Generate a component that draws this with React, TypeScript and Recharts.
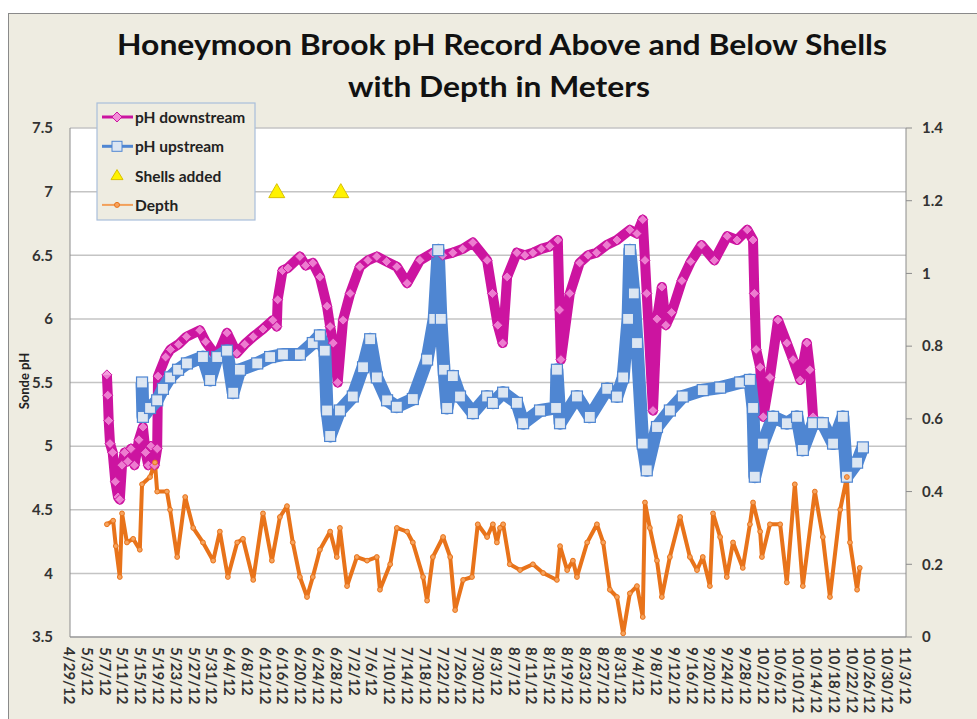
import React from 'react';
import { ComposedChart, Line, Scatter, XAxis, YAxis, CartesianGrid } from 'recharts';

// x values are days counted from 4/29/12
const X_LABELS = [
  '4/29/12', '5/3/12', '5/7/12', '5/11/12', '5/15/12', '5/19/12', '5/23/12', '5/27/12',
  '5/31/12', '6/4/12', '6/8/12', '6/12/12', '6/16/12', '6/20/12', '6/24/12', '6/28/12',
  '7/2/12', '7/6/12', '7/10/12', '7/14/12', '7/18/12', '7/22/12', '7/26/12', '7/30/12',
  '8/3/12', '8/7/12', '8/11/12', '8/15/12', '8/19/12', '8/23/12', '8/27/12', '8/31/12',
  '9/4/12', '9/8/12', '9/12/12', '9/16/12', '9/20/12', '9/24/12', '9/28/12', '10/2/12',
  '10/6/12', '10/10/12', '10/14/12', '10/18/12', '10/22/12', '10/26/12', '10/30/12', '11/3/12',
];
const PH_TICKS = [3.5, 4, 4.5, 5, 5.5, 6, 6.5, 7, 7.5];
const DEPTH_TICKS = [0, 0.2, 0.4, 0.6, 0.8, 1, 1.2, 1.4];

const PH_DOWNSTREAM: [number, number][] = [
  [8.3, 5.56], [8.5, 5.4], [8.7, 5.2], [9.0, 5.02], [9.6, 4.95], [10.2, 4.72], [10.8, 4.6], [11.2, 4.58],
  [11.7, 4.85], [12.3, 4.95], [13.0, 4.88], [13.7, 4.98], [14.5, 4.85], [15.5, 5.05], [16.4, 5.15], [17.0, 4.95],
  [17.6, 4.85], [18.2, 5.0], [19.0, 4.85], [19.6, 4.98], [19.8, 5.55], [21.5, 5.7], [22.6, 5.76], [24.4, 5.8],
  [26.2, 5.86], [29.2, 5.91], [30.5, 5.82], [33.0, 5.7], [35.3, 5.89], [37.5, 5.73], [39.3, 5.8], [41.2, 5.86],
  [43.4, 5.92], [45.6, 5.99], [46.5, 5.94], [46.7, 6.15], [47.8, 6.38], [49.0, 6.4], [51.7, 6.49], [53.0, 6.42],
  [54.6, 6.44], [56.2, 6.33], [57.8, 6.1], [58.5, 5.94], [59.2, 5.81], [60.2, 5.5], [61.4, 5.99], [63.0, 6.2],
  [65.2, 6.41], [67.0, 6.46], [69.0, 6.49], [71.2, 6.45], [73.5, 6.41], [75.8, 6.28], [78.7, 6.46], [81.6, 6.52],
  [83.8, 6.5], [86.1, 6.52], [88.3, 6.55], [90.6, 6.6], [93.8, 6.46], [95.0, 6.2], [96.2, 5.95], [97.3, 5.81],
  [98.3, 6.33], [100.5, 6.52], [102.3, 6.5], [104.1, 6.52], [106.0, 6.55], [107.9, 6.57], [109.7, 6.62], [110.1, 6.07],
  [110.4, 5.68], [112.4, 6.2], [114.6, 6.44], [116.5, 6.5], [118.4, 6.52], [120.7, 6.58], [123.0, 6.62], [125.9, 6.7],
  [127.5, 6.67], [128.8, 6.78], [129.3, 6.46], [129.7, 6.2], [131.1, 5.28], [132.0, 6.0], [133.1, 6.25], [134.0, 5.95],
  [135.3, 6.05], [137.6, 6.3], [139.6, 6.45], [142.0, 6.58], [144.9, 6.46], [147.8, 6.65], [150.0, 6.62], [152.3, 6.7],
  [153.6, 6.62], [153.9, 6.2], [154.3, 5.76], [155.2, 5.62], [155.9, 5.23], [157.4, 5.54], [159.2, 5.99], [161.2, 5.81],
  [162.6, 5.68], [164.2, 5.52], [165.7, 5.81], [166.4, 5.6], [167.1, 5.23],
];

const PH_UPSTREAM: [number, number][] = [
  [16.2, 5.5], [16.4, 5.23], [18.0, 5.3], [19.6, 5.36], [20.9, 5.45], [22.5, 5.54], [24.3, 5.6], [26.3, 5.65],
  [29.9, 5.7], [31.5, 5.52], [33.1, 5.7], [35.3, 5.75], [36.7, 5.42], [38.2, 5.6], [42.1, 5.65], [45.0, 5.7],
  [47.9, 5.72], [51.7, 5.72], [54.6, 5.81], [56.2, 5.87], [57.3, 5.75], [57.8, 5.28], [58.5, 5.08], [60.7, 5.28],
  [63.6, 5.39], [65.9, 5.62], [67.5, 5.84], [69.0, 5.54], [71.3, 5.36], [73.5, 5.31], [77.1, 5.37], [80.3, 5.68],
  [81.9, 6.0], [82.8, 6.54], [83.4, 6.0], [84.1, 5.6], [84.8, 5.3], [86.1, 5.55], [87.7, 5.39], [90.6, 5.26],
  [93.8, 5.39], [95.1, 5.34], [97.4, 5.42], [100.5, 5.34], [101.9, 5.18], [105.7, 5.28], [109.3, 5.3], [109.5, 5.6],
  [110.2, 5.18], [114.0, 5.39], [116.9, 5.23], [120.8, 5.45], [123.0, 5.39], [124.4, 5.54], [125.5, 6.0], [125.9, 6.54],
  [126.8, 6.2], [127.5, 5.81], [128.8, 5.02], [129.7, 4.81], [132.0, 5.15], [134.9, 5.28], [137.8, 5.39], [142.3, 5.44],
  [146.2, 5.46], [150.7, 5.5], [152.9, 5.52], [153.6, 5.3], [154.0, 4.76], [155.8, 5.02], [158.1, 5.23], [161.2, 5.18],
  [163.5, 5.23], [164.8, 4.97], [167.1, 5.18], [169.3, 5.18], [171.6, 5.02], [173.8, 5.23], [174.7, 4.76], [177.0, 4.87],
  [178.3, 4.99],
];

const DEPTH_M: [number, number][] = [
  [8.3, 0.31], [9.7, 0.32], [10.3, 0.25], [11.2, 0.165], [11.7, 0.34], [12.8, 0.26], [14.2, 0.27], [15.7, 0.24],
  [16.2, 0.42], [18.0, 0.44], [19.1, 0.48], [19.6, 0.40], [21.8, 0.40], [22.5, 0.35], [24.1, 0.22], [25.9, 0.385],
  [27.7, 0.30], [29.9, 0.26], [32.2, 0.21], [33.7, 0.29], [35.5, 0.165], [37.6, 0.26], [38.9, 0.27], [41.2, 0.157],
  [43.4, 0.34], [45.4, 0.21], [47.2, 0.33], [48.8, 0.36], [50.1, 0.26], [51.7, 0.165], [53.3, 0.11], [54.6, 0.165],
  [56.2, 0.24], [58.5, 0.29], [60.0, 0.22], [60.7, 0.30], [62.3, 0.14], [64.5, 0.22], [66.8, 0.21], [69.0, 0.22],
  [69.7, 0.13], [72.0, 0.20], [73.5, 0.30], [75.8, 0.29], [77.1, 0.26], [79.4, 0.165], [80.3, 0.10], [81.6, 0.22],
  [83.9, 0.275], [85.5, 0.22], [86.6, 0.074], [88.4, 0.157], [90.4, 0.165], [91.7, 0.31], [93.8, 0.275], [95.1, 0.31],
  [96.0, 0.26], [96.7, 0.30], [97.4, 0.31], [98.9, 0.20], [101.2, 0.184], [104.1, 0.20], [106.4, 0.176], [109.5, 0.157],
  [110.2, 0.25], [111.8, 0.184], [113.1, 0.21], [114.0, 0.165], [116.3, 0.26], [118.5, 0.31], [119.9, 0.26], [121.4, 0.13],
  [123.0, 0.11], [124.4, 0.01], [125.9, 0.12], [127.5, 0.14], [128.8, 0.055], [129.3, 0.37], [130.4, 0.30], [132.0, 0.21],
  [133.1, 0.11], [134.9, 0.22], [137.2, 0.33], [139.4, 0.22], [141.0, 0.184], [142.3, 0.22], [143.9, 0.14], [144.6, 0.34],
  [146.2, 0.275], [147.7, 0.165], [149.1, 0.26], [151.3, 0.19], [152.9, 0.31], [153.6, 0.37], [155.2, 0.29], [155.6, 0.22],
  [157.4, 0.31], [159.7, 0.31], [161.2, 0.15], [163.0, 0.42], [164.8, 0.14], [167.5, 0.40], [169.3, 0.275], [170.9, 0.11],
  [173.2, 0.35], [174.7, 0.44], [175.4, 0.26], [177.0, 0.13], [177.6, 0.19],
];

const SHELLS_ADDED: [number, number][] = [[46.5, 7], [60.9, 7]];

const FONT = 'Lato, "Open Sans", sans-serif';
const BG = '#EEECE1';
const AXIS = '#8C8C8C';
const MAGENTA = '#CC14A0';
const BLUE = '#4F86D2';
const ORANGE = '#E8731A';

// merge the three series into one table keyed by day
function buildRows() {
  const map = new Map<number, any>();
  const put = (arr: [number, number][], key: string) => {
    arr.forEach(([d, v]) => {
      const row = map.get(d) || { d };
      row[key] = v;
      map.set(d, row);
    });
  };
  put(PH_DOWNSTREAM, 'down');
  put(PH_UPSTREAM, 'up');
  put(DEPTH_M, 'depth');
  return Array.from(map.values()).sort((a, b) => a.d - b.d);
}

const rows = buildRows();
const shellRows = SHELLS_ADDED.map(([d, v]) => ({ d, shell: v }));
const xTicks = X_LABELS.map((_, i) => i * 4);

const ok = (p: any) => p.cx != null && p.cy != null && !isNaN(p.cy) && p.value != null;

const Diamond = (p: any) => {
  if (!ok(p)) return <g key={`dd${p.index}`} />;
  const r = 5;
  return (
    <path key={`dd${p.index}`} d={`M${p.cx},${p.cy - r}L${p.cx + r},${p.cy}L${p.cx},${p.cy + r}L${p.cx - r},${p.cy}Z`}
      fill="#F28ED8" fillOpacity={0.85} stroke={MAGENTA} strokeWidth={1} />
  );
};

const Square = (p: any) => {
  if (!ok(p)) return <g key={`us${p.index}`} />;
  const r = 5.5;
  return <rect key={`us${p.index}`} x={p.cx - r} y={p.cy - r} width={2 * r} height={2 * r} fill="#DCE6F2" stroke={BLUE} strokeWidth={1.2} />;
};

const Dot = (p: any) => {
  if (!ok(p)) return <g key={`dp${p.index}`} />;
  return <circle key={`dp${p.index}`} cx={p.cx} cy={p.cy} r={2.4} fill="#F6A35E" stroke={ORANGE} strokeWidth={1} />;
};

const Triangle = (p: any) => (
  <path d={`M${p.cx},${p.cy - 8}L${p.cx + 8},${p.cy + 6}L${p.cx - 8},${p.cy + 6}Z`} fill="#FFF200" stroke="#D8C000" strokeWidth={1} />
);

const DateTick = (p: any) => {
  const label = X_LABELS[Math.round(p.payload.value / 4)];
  return (
    <text transform={`translate(${p.x},${p.y + 8}) rotate(90)`} textAnchor="start" dominantBaseline="central"
      fontFamily={FONT} fontWeight={700} fontSize={15} fill="#333">
      {label}
    </text>
  );
};

const LEGEND = [
  { label: 'pH downstream', kind: 'down' },
  { label: 'pH upstream', kind: 'up' },
  { label: 'Shells added', kind: 'shell' },
  { label: 'Depth', kind: 'depth' },
];

function LegendIcon({ kind, y }: { kind: string; y: number }) {
  const x0 = 102, x1 = 133, cx = 117;
  if (kind === 'down') {
    return (
      <g>
        <line x1={x0} x2={x1} y1={y} y2={y} stroke={MAGENTA} strokeWidth={3} />
        <path d={`M${cx},${y - 5}L${cx + 5},${y}L${cx},${y + 5}L${cx - 5},${y}Z`} fill="#F28ED8" stroke={MAGENTA} />
      </g>
    );
  }
  if (kind === 'up') {
    return (
      <g>
        <line x1={x0} x2={x1} y1={y} y2={y} stroke={BLUE} strokeWidth={3} />
        <rect x={cx - 5} y={y - 5} width={10} height={10} fill="#DCE6F2" stroke={BLUE} />
      </g>
    );
  }
  if (kind === 'shell') {
    return <path d={`M${cx},${y - 6}L${cx + 6},${y + 4}L${cx - 6},${y + 4}Z`} fill="#FFF200" stroke="#D8C000" />;
  }
  return (
    <g>
      <line x1={x0} x2={x1} y1={y} y2={y} stroke="#F2A05A" strokeWidth={2} />
      <circle cx={cx} cy={y} r={2.5} fill="#F6A35E" stroke={ORANGE} />
    </g>
  );
}

export default function App() {
  return (
    <div style={{ position: 'absolute', left: 0, top: 0, width: 977, height: 719, background: '#fff', overflow: 'hidden' }}>
      <div style={{ position: 'absolute', left: 8, top: 13, width: 980, height: 720, background: BG, border: '1px solid #8A8A8A' }} />
      <div style={{ position: 'absolute', left: 0, top: 0 }}>
        <ComposedChart width={977} height={719} data={rows} margin={{ top: 128, right: 11, bottom: 12, left: 30 }}>
          <CartesianGrid yAxisId="ph" vertical={false} stroke="#C4C4C4" strokeWidth={1.5} fill="#fff" />
          <XAxis dataKey="d" type="number" domain={[0, 188]} ticks={xTicks} interval={0} tick={<DateTick />}
            tickLine={false} tickSize={0} axisLine={{ stroke: AXIS }} height={70} allowDataOverflow />
          <YAxis yAxisId="ph" domain={[3.5, 7.5]} ticks={PH_TICKS} interval={0} width={40} tickLine={false} tickSize={12}
            tickMargin={5} axisLine={{ stroke: AXIS }}
            tick={{ fontFamily: FONT, fontWeight: 700, fontSize: 15, fill: '#333' }} />
          <YAxis yAxisId="depth" orientation="right" domain={[0, 1.4]} ticks={DEPTH_TICKS} interval={0} width={60}
            tickSize={6} tickMargin={10} tickLine={{ stroke: AXIS }} axisLine={{ stroke: AXIS }}
            tickFormatter={(v: number) => String(Math.round(v * 10) / 10)}
            tick={{ fontFamily: FONT, fontWeight: 700, fontSize: 15, fill: '#333', textAnchor: 'start' }} />
          <Line yAxisId="ph" dataKey="down" type="linear" stroke={MAGENTA} strokeWidth={10} strokeLinejoin="round"
            dot={Diamond} activeDot={false} connectNulls isAnimationActive={false} />
          <Line yAxisId="ph" dataKey="up" type="linear" stroke={BLUE} strokeWidth={13} strokeLinejoin="round"
            dot={Square} activeDot={false} connectNulls isAnimationActive={false} />
          <Scatter yAxisId="ph" data={shellRows} dataKey="shell" shape={Triangle} isAnimationActive={false} />
          <Line yAxisId="depth" dataKey="depth" type="linear" stroke={ORANGE} strokeWidth={4} strokeLinejoin="round"
            dot={Dot} activeDot={false} connectNulls isAnimationActive={false} />
        </ComposedChart>
      </div>
      <svg width={977} height={719} style={{ position: 'absolute', left: 0, top: 0, pointerEvents: 'none' }}>
        <text x={502} y={55} textAnchor="middle" fontFamily={FONT} fontWeight={700} fontSize={28} fill="#111"
          textLength={770} lengthAdjust="spacingAndGlyphs">
          Honeymoon Brook pH Record Above and Below Shells
        </text>
        <text x={499} y={97} textAnchor="middle" fontFamily={FONT} fontWeight={700} fontSize={28} fill="#111"
          textLength={302} lengthAdjust="spacingAndGlyphs">
          with Depth in Meters
        </text>
        <text transform="translate(29,381) rotate(-90)" textAnchor="middle" fontFamily={FONT} fontWeight={700}
          fontSize={13} fill="#222">
          Sonde pH
        </text>
        <rect x={97} y={103} width={158} height={117} fill={BG} stroke="#A9BEDB" strokeWidth={1.2} />
        {LEGEND.map((l, i) => {
          const y = 117 + i * 29.3;
          return (
            <g key={l.label}>
              <LegendIcon kind={l.kind} y={y} />
              <text x={135} y={y} dominantBaseline="central" fontFamily={FONT} fontWeight={700} fontSize={15.5} fill="#222">
                {l.label}
              </text>
            </g>
          );
        })}
      </svg>
    </div>
  );
}
